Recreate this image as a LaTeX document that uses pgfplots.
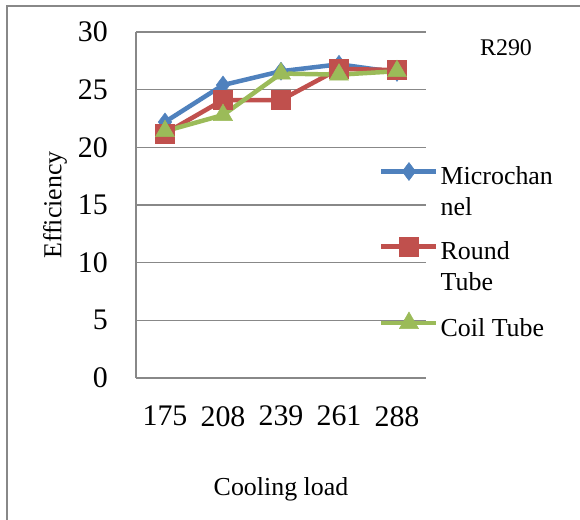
\documentclass[border=0pt]{standalone}
\usepackage{pgfplots}
\pgfplotsset{compat=1.18}
\usepackage{fontspec}
\setmainfont{Liberation Serif}
\definecolor{mblue}{HTML}{4F81BD}
\definecolor{mred}{HTML}{C0504D}
\definecolor{mgreen}{HTML}{9BBB59}
\definecolor{gridgray}{HTML}{888888}
\begin{document}
\begin{tikzpicture}
\useasboundingbox (-136bp,-142bp) rectangle (444bp,378bp);
\draw[gridgray, line width=1.2bp] (-129bp,-170bp) -- (-129bp,372bp) -- (470bp,372bp);
\begin{axis}[
  at={(0,0)}, anchor=south west,
  scale only axis, width=290bp, height=346bp,
  xmin=0.5, xmax=5.5, ymin=0, ymax=30,
  xtick={1,2,3,4,5}, xticklabels={175,208,239,261,288},
  ytick={0,5,...,30},
  ymajorgrids, grid style={gridgray, line width=1.2bp},
  axis x line=bottom, axis y line=left,
  axis line style={-, draw=gridgray, line width=1.2bp},
  major tick length=0pt,
  /pgf/number format/assume math mode=true,
  tick label style={font=\fontsize{30}{36}\selectfont},
  xticklabel style={inner sep=0pt, anchor=north, yshift=-28bp},
  yticklabel style={inner sep=0pt, anchor=east, xshift=-28bp},
  xlabel={Cooling load},
  xlabel style={at={(axis description cs:0.5,0)}, anchor=base, yshift=-117bp, font=\fontsize{26}{31}\selectfont},
  ylabel={Efficiency},
  ylabel style={at={(axis description cs:-0.279,0.5)}, anchor=center, rotate=0, font=\fontsize{26}{31}\selectfont},
  clip=false,
  legend cell align=left,
  legend style={draw=none, fill=none, at={(0.838,0.6234)}, anchor=north west,
    inner sep=0pt, row sep=0pt, column sep=0pt,
    font=\fontsize{26}{31}\selectfont,
    nodes={inner sep=0pt, outer sep=0pt, text height=21.7bp, text depth=9.3bp},
  },
  legend image code/.code={\draw[mark repeat=2,mark phase=2,#1] plot coordinates {(0bp,7bp)(27.5bp,7bp)(55bp,7bp)};},
  every axis plot/.append style={line width=4.5bp},
]
\addplot[mblue, mark=diamond*, mark size=9bp, mark options={fill=mblue, draw=mblue, line width=0.5bp}]
  coordinates {(1,22.2) (2,25.4) (3,26.6) (4,27.2) (5,26.5)};
\addlegendentry{\hspace{2bp}Microchan}
\addlegendimage{empty legend}
\addlegendentry[text depth=21.3bp]{\hspace{2bp}nel}
\addplot[mred, mark=square*, mark size=9.5bp, mark options={fill=mred, draw=mred, line width=0.5bp}]
  coordinates {(1,21.2) (2,24.1) (3,24.1) (4,26.8) (5,26.7)};
\addlegendentry{\hspace{2bp}Round}
\addlegendimage{empty legend}
\addlegendentry[text depth=21.3bp]{\hspace{2bp}Tube}
\addplot[mgreen, mark=triangle*, mark size=11bp, mark options={fill=mgreen, draw=mgreen, line width=0.5bp}]
  coordinates {(1,21.4) (2,22.8) (3,26.4) (4,26.3) (5,26.6)};
\addlegendentry{\hspace{2bp}Coil Tube}
\node[anchor=base, font=\fontsize{24}{29}\selectfont] at (rel axis cs:1.276,0.9335) {R290};
\end{axis}
\end{tikzpicture}
\end{document}
